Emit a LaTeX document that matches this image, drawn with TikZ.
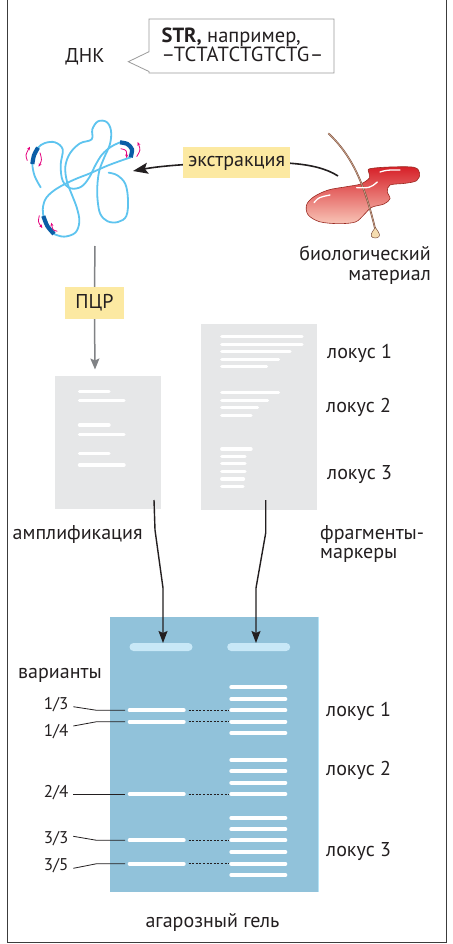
\documentclass[tikz,border=0pt]{standalone}
\usepackage{fontspec}
\setmainfont{PT Sans}
\usetikzlibrary{arrows.meta,calc}
\definecolor{ink}{HTML}{231F20}
\definecolor{frameline}{HTML}{3C3C3C}
\definecolor{calloutgray}{HTML}{9A9A9A}
\definecolor{labelfill}{HTML}{FCE9A2}
\definecolor{panelgray}{HTML}{E6E7E8}
\definecolor{gelblue}{HTML}{91C2DA}
\definecolor{geledge}{HTML}{B5E3F6}
\definecolor{wellblue}{HTML}{C8E8F7}
\definecolor{strand}{HTML}{5EC4EF}
\definecolor{locusblue}{HTML}{0A5DA6}
\definecolor{primer}{HTML}{E5007D}
\definecolor{pcrgray}{HTML}{808285}
\definecolor{tissuetop}{HTML}{D61F27}
\definecolor{tissuebot}{HTML}{F8C4B6}
\definecolor{tissueline}{HTML}{9A2A22}
\definecolor{hair}{HTML}{7B4B3A}
\definecolor{haircore}{HTML}{C9A58C}
\definecolor{bulb}{HTML}{F5DDB0}

\begin{document}
\begin{tikzpicture}[x=1pt,y=-1pt,
  txt/.style={font=\fontsize{20}{22}\selectfont, text=ink, inner sep=0pt},
  small/.style={font=\fontsize{17}{19}\selectfont, text=ink, inner sep=0pt},
  tag/.style={txt, fill=labelfill, minimum height=31pt},
  panel/.style={fill=panelgray, inner sep=0pt, anchor=north west},
  pband/.style={white, line width=3.4pt, line cap=round},
  gband/.style={white, line width=3.8pt, line cap=round},
  well/.style={fill=wellblue, rounded corners=4pt, inner sep=0pt, minimum width=63pt, minimum height=8pt},
  flow/.style={ink, line width=1.4pt, -{Stealth[length=12pt,width=9pt,inset=2pt]}},
  pcrline/.style={pcrgray, line width=1.5pt},
  leader/.style={ink, line width=0.8pt},
  match/.style={ink, line width=0.9pt, dash pattern=on 2pt off 1.6pt},
  dnastrand/.style={strand, line width=1.8pt, line cap=round},
  locus/.style={locusblue, line width=4.2pt},
  primerarrow/.style={primer, line width=0.8pt, -{Stealth[length=3.5pt,width=3pt]}},
]
\useasboundingbox (0,0) rectangle (452,944);
\fill[white] (0,0) rectangle (452,944);

% outer frame
\draw[frameline, line width=1.3pt] (7.5,0) -- (7.5,942.5) -- (446.5,942.5) -- (446.5,0);

% ---------- DNA with STR callout ----------
\node[txt, anchor=base] (dna) at (85,62.5) {ДНК};
\draw[calloutgray, line width=0.8pt, fill=white]
  (149,19) -- (334,19) -- (334,73) -- (149,73) -- (149,71.5) -- (128.3,61.7) -- (149,51.7) -- cycle;
\node[txt, font=\fontsize{20.5}{22}\selectfont, anchor=base west] (strline) at (161.5,42.5) {\bfseries STR,\mdseries{} например,};
\node[txt, font=\fontsize{20.5}{22}\selectfont, anchor=base west] (seqline) at (161.5,62) {\addfontfeature{LetterSpace=2}–TCTATCTGTCTG–};

% ---------- tangled DNA molecule ----------
\begin{scope}[shift={(10,110)}, scale=1/3]
  \draw[dnastrand] plot[smooth, tension=0.6] coordinates {(92,232) (74,198) (67,162) (72,136) (84,113) (105,99) (135,97) (158,118) (152,165) (158,212) (182,235) (214,230) (238,202) (256,166) (276,134) (302,111) (330,97)};
  \draw[dnastrand] plot[smooth, tension=0.6] coordinates {(362,142) (330,153) (290,168) (240,190) (190,210) (140,236) (110,262) (99,290) (100,318)};
  \draw[dnastrand] plot[smooth, tension=0.6] coordinates {(132,372) (162,380) (196,368) (208,335) (201,295) (186,255) (171,215) (166,170) (180,130) (210,100) (245,88) (247,58) (264,34) (290,36) (303,62) (300,102) (283,142) (268,182) (262,228) (263,272) (271,312) (293,334) (324,336) (349,318) (354,270) (346,222) (322,196) (296,188)};
  % marked repeat regions
  \draw[locus] plot[smooth] coordinates {(67,162) (72,136) (84,113)};
  \draw[locus] plot[smooth] coordinates {(330,97) (352,102) (366,118) (362,142)};
  \draw[locus] plot[smooth] coordinates {(100,318) (112,348) (132,372)};
  % primers
  \draw[primerarrow] (52,152) .. controls (46,135) .. (60,110);
  \draw[primerarrow] (90,128) .. controls (96,150) .. (86,170);
  \draw[primerarrow] (380,140) .. controls (392,120) .. (383,96);
  \draw[primerarrow] (332,116) .. controls (350,120) .. (350,144);
  \draw[primerarrow] (88,316) .. controls (84,336) .. (97,354);
  \draw[primerarrow] (142,364) .. controls (128,360) .. (124,338);
\end{scope}

% ---------- biological material ----------
\begin{scope}[shift={(290,120)}, scale=1/3]
  \shade[top color=tissuetop, bottom color=tissuebot, draw=tissueline, line width=0.6pt]
    plot[smooth cycle, tension=0.55] coordinates {(240,146) (300,141) (372,142) (389,160) (380,182) (345,190) (300,195) (292,215) (300,236) (282,252) (245,262) (222,284) (196,306) (145,311) (88,305) (54,284) (50,254) (72,230) (115,210) (170,200) (212,192) (238,174) (236,156)};
  % hair with its root
  \draw[hair, line width=0.5pt, double=haircore, double distance=0.7pt]
    (115,40) .. controls (190,110) and (225,200) .. (255,325);
  \draw[hair, line width=0.5pt, fill=bulb]
    (256,322) .. controls (250,332) and (242,340) .. (244,348) .. controls (246,356) and (266,356) .. (268,348) .. controls (270,340) and (262,332) .. cycle;
  % gloss
  \draw[white, line width=1.3pt, line cap=round] (270,156) .. controls (290,150) .. (330,150);
  \draw[white, line width=1.3pt, line cap=round] (200,203) .. controls (240,204) .. (262,186);
  \draw[white, line width=1.3pt, line cap=round] (72,248) .. controls (86,232) .. (120,225);
\end{scope}
\node[txt, anchor=base east] (bio) at (431,260.5) {биологический};
\node[txt, anchor=base east] (bio2) at (431,280.5) {материал};

% extraction arrow
\coordinate (exsrc) at (338,176);
\coordinate (exc) at (236.5,163);
\coordinate (extip) at (133,171);
\draw[ink, line width=1.6pt, -{Stealth[length=15pt,width=11pt,inset=3pt]}]
  (exsrc) .. controls (315,161) and (275,162) .. (exc) .. controls (195,163) and (160,166) .. (extip);
\node[tag, minimum width=107pt] (extr) at (exc) {экстракция};

% ---------- PCR ----------
\coordinate (dnatail) at (95,246);
\node[tag, minimum width=59pt, minimum height=32pt] (pcr) at (94.5,303) {ПЦР};
\draw[pcrline] (dnatail) -- (pcr.north);
\coordinate (amphead) at (95,369.5);
\draw[pcrline, -{Stealth[length=11pt,width=9pt,inset=2pt]}] (pcr.south) -- (amphead);

% ---------- amplified fragments ----------
\node[panel, minimum width=106pt, minimum height=133pt] (amp) at (55,376) {};
\foreach \y/\e in {391.7/109, 400.7/124, 425/109, 434.3/124, 453.7/109, 465/124}
  \draw[pband] (79.5,\y) -- (\e,\y);
\node[txt, anchor=base west] (amplbl) at (12.5,539) {амплификация};

% ---------- marker fragments ----------
\node[panel, minimum width=116pt, minimum height=186pt] (mark) at (201,324) {};
\foreach \y/\e in {336.7/302, 344.3/302, 351.7/290, 359.3/278.5, 366.7/266.5,
                   392.7/278.5, 400.3/267.5, 407.7/257.5, 415.3/251,
                   449/251, 456.7/245, 463.7/245, 471.3/245, 479/243.5, 486.7/243}
  \draw[pband] (221.8,\y) -- (\e,\y);
\node[txt, anchor=base west] (ml1) at (327,358) {локус 1};
\node[txt, anchor=base west] (ml2) at (326,412.3) {локус 2};
\node[txt, anchor=base west] (ml3) at (327,479) {локус 3};
\node[txt, anchor=base west] (marklbl) at (320,539) {фрагменты-};
\node[txt, anchor=base west] (marklbl2) at (320,558.5) {маркеры};

% ---------- agarose gel ----------
\node[fill=gelblue, inner sep=0pt, anchor=north west, minimum width=209pt, minimum height=275pt] (gel) at (109.3,616.7) {};
\draw[geledge, line width=1pt] ($(gel.north east)+(-0.5,0)$) -- ($(gel.south east)+(-0.5,0)$);
\node[well] (wellL) at (161,647) {};
\node[well] (wellR) at (258.7,647) {};

\coordinate (ampout) at (154,500);
\coordinate (markout) at (265.7,500);
\draw[flow] (ampout) .. controls (155,515) .. (155,530) -- (163,588) -- (163,643);
\draw[flow] (markout) -- (265.7,533) -- (256,588) -- (256,643);

% sample lane
\foreach \y in {710.3, 721.7, 794, 840.3, 863.7}
  \draw[gband] (129.6,\y) -- (183.8,\y);
% marker lane
\foreach \y in {687.3, 699, 710.3, 721.7, 733, 760, 771.3, 782.7, 794, 818, 829.3, 840.3, 852, 863.7, 875}
  \draw[gband] (231.2,\y) -- (285.4,\y);
% matching bands
\foreach \y in {710.3, 721.7, 794, 840.3, 863.7}
  \draw[match] (188.5,\y) -- (228.5,\y);

\node[txt, anchor=base west] (varlbl) at (18,678.3) {варианты};
\node[small, anchor=base east] (f13) at (68.5,709.5) {1/3};
\node[small, anchor=base east] (f14) at (68.5,736.7) {1/4};
\node[small, anchor=base east] (f24) at (68.5,797.3) {2/4};
\node[small, anchor=base east] (f33) at (68.5,843.3) {3/3};
\node[small, anchor=base east] (f35) at (68.5,870.7) {3/5};
\draw[leader] (73.3,706.7) -- (96.7,710.3) -- (125,710.3);
\draw[leader] (73.3,726) -- (96.7,721.7) -- (125,721.7);
\draw[leader] (73.3,794) -- (125,794);
\draw[leader] (73.3,836.3) -- (96.7,840.3) -- (125,840.3);
\draw[leader] (73.3,868.3) -- (96.7,863.7) -- (125,863.7);

\node[txt, anchor=base west] (gl1) at (326,716.7) {локус 1};
\node[txt, anchor=base west] (gl2) at (326,775.7) {локус 2};
\node[txt, anchor=base west] (gl3) at (326,856.7) {локус 3};
\node[txt, anchor=base] (gellbl) at (212.5,927.3) {агарозный гель};
\end{tikzpicture}
\end{document}
